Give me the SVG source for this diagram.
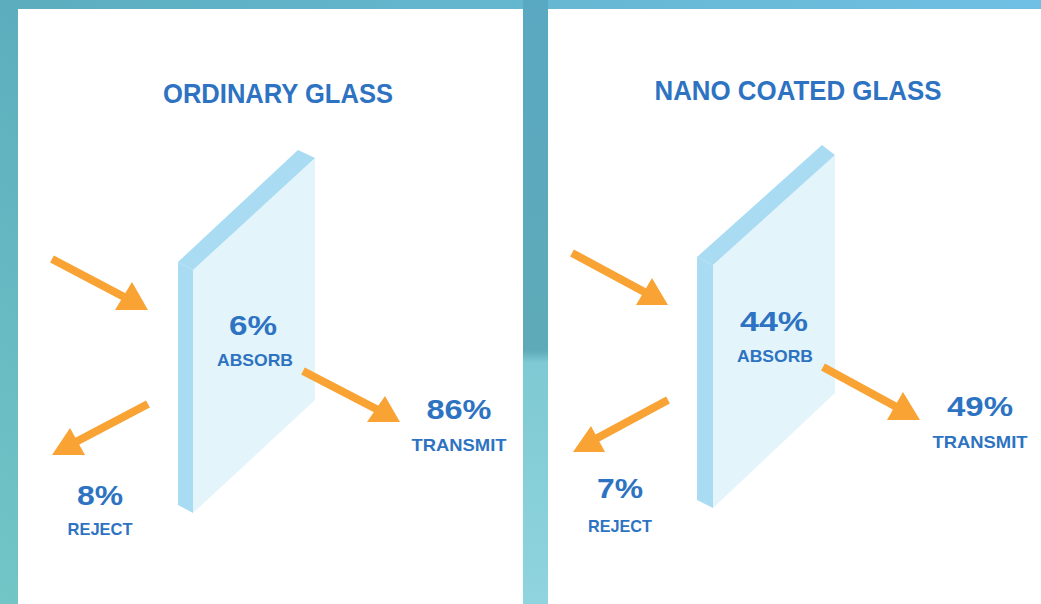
<svg xmlns="http://www.w3.org/2000/svg" width="1041" height="604" viewBox="0 0 1041 604">
<defs>
<linearGradient id="bg" x1="0" y1="1" x2="1" y2="0">
<stop offset="0" stop-color="#72c6c6"/>
<stop offset="0.5" stop-color="#5caebe"/>
<stop offset="1" stop-color="#6fc0e4"/>
</linearGradient>
<linearGradient id="div" x1="0" y1="0" x2="0" y2="1">
<stop offset="0" stop-color="#5aa9c2"/>
<stop offset="0.58" stop-color="#5eaab8"/>
<stop offset="0.6" stop-color="#7ec9d3"/>
<stop offset="1" stop-color="#8fd4de"/>
</linearGradient>
<style>
.panel{fill:#ffffff}
.face{fill:#e4f4fb}
.edge{fill:#a9dcf3}
.arrow{fill:#f8a334}
.shaft{stroke:#f8a334;stroke-width:8;fill:none}
.title{font-family:"Liberation Sans",Arial,sans-serif;font-weight:bold;font-size:28px;fill:#2d73c2;text-anchor:middle}
.pct{font-family:"Liberation Sans",Arial,sans-serif;font-weight:bold;font-size:28px;fill:#2d73c2;text-anchor:middle}
.lbl{font-family:"Liberation Sans",Arial,sans-serif;font-weight:bold;font-size:17px;fill:#2d73c2;text-anchor:middle}
</style>
</defs>
<rect x="0" y="0" width="1041" height="604" fill="url(#bg)"/>
<rect x="523" y="0" width="25" height="604" fill="url(#div)"/>
<rect class="panel" x="18" y="9" width="505" height="600"/>
<rect class="panel" x="548" y="9" width="500" height="600"/>

<g id="left-panel">
<g id="left-title"><text class="title" x="278" y="103" textLength="230" lengthAdjust="spacingAndGlyphs">ORDINARY GLASS</text></g>
<g id="left-glass">
<polygon class="face" points="193,270 315,158 315,400 193,513"/>
<polygon class="edge" points="178,262 193,270 193,513 178,505"/>
<polygon class="edge" points="178,262 298,150 315,158 193,270"/>
<text class="pct" x="253" y="335" textLength="48" lengthAdjust="spacingAndGlyphs">6%</text>
<text class="lbl" x="255" y="366" textLength="76" lengthAdjust="spacingAndGlyphs">ABSORB</text>
</g>
<g id="left-transmit"><text class="pct" x="459" y="419" textLength="65" lengthAdjust="spacingAndGlyphs">86%</text>
<text class="lbl" x="459" y="451" textLength="95" lengthAdjust="spacingAndGlyphs">TRANSMIT</text></g>
<g id="left-reject"><text class="pct" x="100" y="505" textLength="46" lengthAdjust="spacingAndGlyphs">8%</text>
<text class="lbl" x="100" y="535" textLength="65" lengthAdjust="spacingAndGlyphs">REJECT</text></g>
</g>

<g id="right-panel">
<g id="right-title"><text class="title" x="798" y="100" textLength="287" lengthAdjust="spacingAndGlyphs">NANO COATED GLASS</text></g>
<g id="right-glass">
<polygon class="face" points="713,265 835,155 835,393 713,508"/>
<polygon class="edge" points="697,257 713,265 713,508 697,500"/>
<polygon class="edge" points="697,257 822,145 835,155 713,265"/>
<text class="pct" x="774" y="331" textLength="68" lengthAdjust="spacingAndGlyphs">44%</text>
<text class="lbl" x="775" y="362" textLength="76" lengthAdjust="spacingAndGlyphs">ABSORB</text>
</g>
<g id="right-transmit"><text class="pct" x="980" y="416" textLength="66" lengthAdjust="spacingAndGlyphs">49%</text>
<text class="lbl" x="980" y="448" textLength="95" lengthAdjust="spacingAndGlyphs">TRANSMIT</text></g>
<g id="right-reject"><text class="pct" x="620" y="498" textLength="46" lengthAdjust="spacingAndGlyphs">7%</text>
<text class="lbl" x="620" y="532" textLength="64" lengthAdjust="spacingAndGlyphs">REJECT</text></g>
</g>

<g id="connectors">
<line class="shaft" x1="52" y1="259" x2="128" y2="299"/>
<polygon class="arrow" points="148,310 115,310 132,282"/>
<line class="shaft" x1="148" y1="404" x2="70" y2="445"/>
<polygon class="arrow" points="52,455 85,455 70,428"/>
<line class="shaft" x1="303" y1="371" x2="382" y2="412"/>
<polygon class="arrow" points="400,422 367,422 385,396"/>
<line class="shaft" x1="572" y1="253" x2="650" y2="295"/>
<polygon class="arrow" points="668,305 636,305 652,278"/>
<line class="shaft" x1="668" y1="400" x2="590" y2="442"/>
<polygon class="arrow" points="573,452 605,452 591,426"/>
<line class="shaft" x1="823" y1="367" x2="902" y2="410"/>
<polygon class="arrow" points="920,420 887,420 903,392"/>
</g>
</svg>
